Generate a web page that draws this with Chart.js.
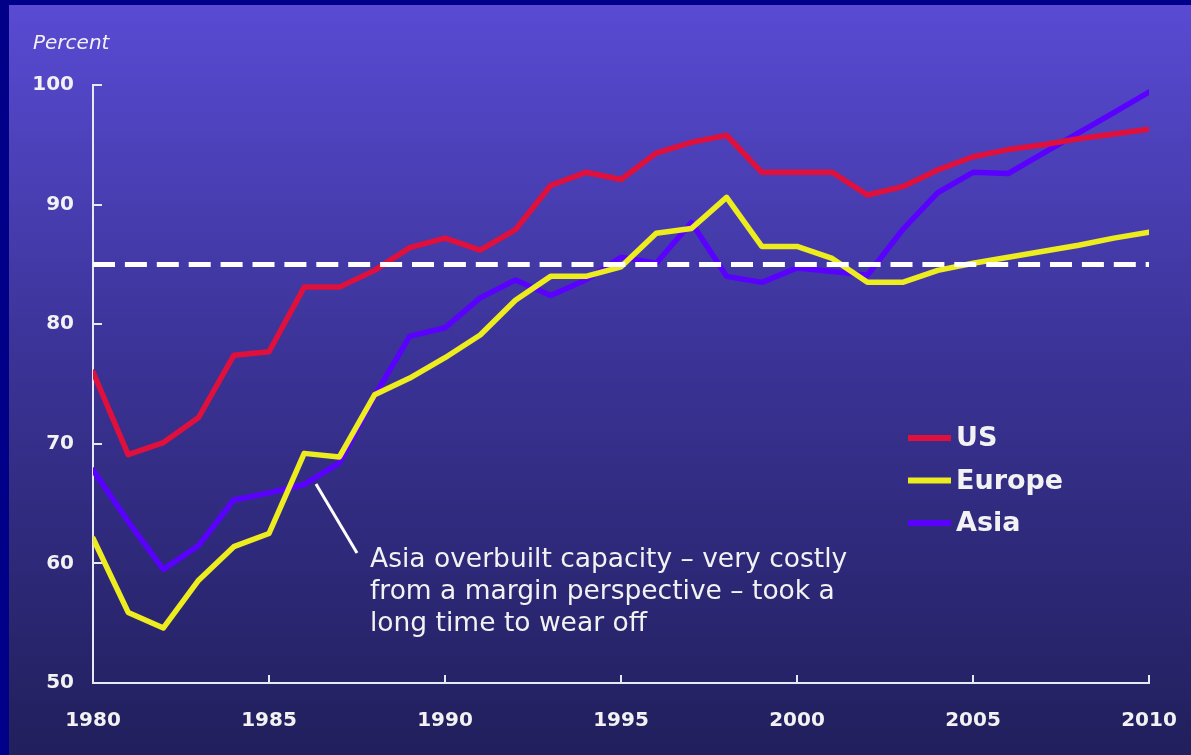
<!DOCTYPE html>
<html>
<head>
<meta charset="utf-8">
<script src="https://cdn.jsdelivr.net/npm/chart.js@4.4.1/dist/chart.umd.min.js"></script>
<style>
    html, body { margin: 0; padding: 0; background: #000088; overflow: hidden; }
    #wrap { position: absolute; left: 0; top: 0; width: 1191px; height: 755px; }
</style>
</head>
<body>
<div id="wrap"><canvas id="chart" width="1191" height="755"></canvas></div>
<script>
const years = [1980, 1981, 1982, 1983, 1984, 1985, 1986, 1987, 1988, 1989,
               1990, 1991, 1992, 1993, 1994, 1995, 1996, 1997, 1998, 1999,
               2000, 2001, 2002, 2003, 2004, 2005, 2006, 2007, 2008, 2009, 2010];
const usValues = [76.0, 69.1, 70.1, 72.2, 77.4, 77.7, 83.1, 83.1, 84.5, 86.4,
                  87.2, 86.2, 87.9, 91.6, 92.7, 92.1, 94.3, 95.2, 95.8, 92.7,
                  92.7, 92.7, 90.8, 91.5, 92.9, 94.0, 94.6, 95.0, 95.5, 95.9, 96.3];
const europeValues = [62.1, 55.9, 54.6, 58.6, 61.4, 62.5, 69.2, 68.9, 74.1, 75.5,
                      77.2, 79.1, 82.0, 84.0, 84.0, 84.8, 87.6, 88.0, 90.6, 86.5,
                      86.5, 85.5, 83.5, 83.5, 84.5, 85.1, 85.6, 86.1, 86.6, 87.2, 87.7];
const asiaValues = [67.8, 63.5, 59.5, 61.5, 65.3, 65.9, 66.6, 68.4, 74.0, 79.0,
                    79.7, 82.2, 83.7, 82.4, 83.7, 85.6, 85.1, 88.5, 84.0, 83.5,
                    84.7, 84.4, 84.1, 87.9, 91.0, 92.7, 92.6, 94.3, 96.0, 97.7, 99.4];
const targetYears = [1980, 2010];
const targetValues = [85, 85];
const yTickValues = [50, 60, 70, 80, 90, 100];
const xTickValues = [1980, 1985, 1990, 1995, 2000, 2005, 2010];
const seriesNames = ['US', 'Europe', 'Asia'];
const seriesColors = ['#e0103c', '#ecec1e', '#5a00ff'];
const noteLines = ['Asia overbuilt capacity \u2013 very costly',
                   'from a margin perspective \u2013 took a',
                   'long time to wear off'];

const toPoints = (xs, ys) => xs.map((x, i) => ({ x: x, y: ys[i] }));
const textColor = '#f2f2f2';

// background gradient and frame
const backdrop = {
    id: 'backdrop',
    beforeDraw(chart) {
        const ctx = chart.ctx;
        const g = ctx.createLinearGradient(0, 0, 0, chart.height);
        g.addColorStop(0, '#5a4bd4');
        g.addColorStop(0.45, '#3c3499');
        g.addColorStop(1, '#211f5c');
        ctx.save();
        ctx.fillStyle = g;
        ctx.fillRect(0, 0, chart.width, chart.height);
        ctx.fillStyle = '#000088';
        ctx.fillRect(0, 0, chart.width, 5);
        ctx.fillRect(0, 0, 9, chart.height);
        ctx.restore();
    }
};

// inward tick marks, legend, notes
const extras = {
    id: 'extras',
    afterDraw(chart) {
        const ctx = chart.ctx;
        const xs = chart.scales.x, ys = chart.scales.y;
        const area = chart.chartArea;
        ctx.save();
        ctx.strokeStyle = '#e8e8f4';
        ctx.lineWidth = 2;
        yTickValues.forEach(v => {
            if (v === 50) return;
            const py = Math.round(ys.getPixelForValue(v));
            ctx.beginPath();
            ctx.moveTo(area.left, py);
            ctx.lineTo(area.left + 9, py);
            ctx.stroke();
        });
        xTickValues.forEach(v => {
            if (v === 1980) return;
            const px = Math.round(xs.getPixelForValue(v));
            ctx.beginPath();
            ctx.moveTo(px, area.bottom);
            ctx.lineTo(px, area.bottom - 8);
            ctx.stroke();
        });

        // axis unit
        ctx.fillStyle = textColor;
        ctx.font = 'italic 20px "DejaVu Sans"';
        ctx.textBaseline = 'middle';
        ctx.textAlign = 'left';
        ctx.fillText('Percent', 33, 44);

        // legend
        ctx.font = 'bold 27px "DejaVu Sans"';
        seriesNames.forEach((name, i) => {
            const ly = 438 + i * 42.5;
            ctx.strokeStyle = seriesColors[i];
            ctx.lineWidth = 6;
            ctx.beginPath();
            ctx.moveTo(908, ly);
            ctx.lineTo(951, ly);
            ctx.stroke();
            ctx.fillStyle = textColor;
            ctx.fillText(name, 956, ly + 1);
        });

        // annotation
        ctx.strokeStyle = '#ffffff';
        ctx.lineWidth = 3;
        ctx.beginPath();
        ctx.moveTo(316, 484);
        ctx.lineTo(357, 553);
        ctx.stroke();
        ctx.font = '26.5px "DejaVu Sans"';
        ctx.textBaseline = 'alphabetic';
        noteLines.forEach((t, i) => ctx.fillText(t, 370, 567 + i * 32));
        ctx.restore();
    }
};

const lineStyle = {
    borderWidth: 5.5,
    pointRadius: 0,
    tension: 0,
    borderJoinStyle: 'round',
    borderCapStyle: 'round',
    fill: false
};

new Chart(document.getElementById('chart'), {
    type: 'line',
    data: {
        datasets: [
            Object.assign({ label: 'Target', data: toPoints(targetYears, targetValues),
                borderColor: '#ffffff', borderDash: [22, 9.9], order: 0 }, lineStyle, { borderCapStyle: 'butt', borderWidth: 5 }),
            Object.assign({ label: seriesNames[0], data: toPoints(years, usValues),
                borderColor: seriesColors[0], order: 1 }, lineStyle),
            Object.assign({ label: seriesNames[1], data: toPoints(years, europeValues),
                borderColor: seriesColors[1], order: 2 }, lineStyle),
            Object.assign({ label: seriesNames[2], data: toPoints(years, asiaValues),
                borderColor: seriesColors[2], order: 3 }, lineStyle)
        ]
    },
    options: {
        responsive: false,
        animation: false,
        events: [],
        layout: { padding: { top: 85, right: 42, left: 0, bottom: 0 } },
        plugins: { legend: { display: false }, tooltip: { enabled: false } },
        scales: {
            x: {
                type: 'linear',
                min: 1980,
                max: 2010,
                afterFit: s => { s.height = 72; s.paddingLeft = 0; s.paddingRight = 0; },
                afterBuildTicks: s => { s.ticks = xTickValues.map(v => ({ value: v })); },
                grid: { display: false },
                border: { display: true, color: '#e8e8f4', width: 2 },
                ticks: {
                    color: textColor,
                    padding: 18,
                    maxRotation: 0,
                    font: { family: 'DejaVu Sans', size: 20, weight: 'bold' },
                    callback: v => String(v)
                }
            },
            y: {
                min: 50,
                max: 100,
                afterFit: s => { s.width = 93; },
                afterBuildTicks: s => { s.ticks = yTickValues.map(v => ({ value: v })); },
                grid: { display: false },
                border: { display: true, color: '#e8e8f4', width: 2 },
                ticks: {
                    color: textColor,
                    padding: 11,
                    font: { family: 'DejaVu Sans', size: 20, weight: 'bold' },
                    callback: v => String(v)
                }
            }
        }
    },
    plugins: [backdrop, extras]
});
</script>
</body>
</html>
